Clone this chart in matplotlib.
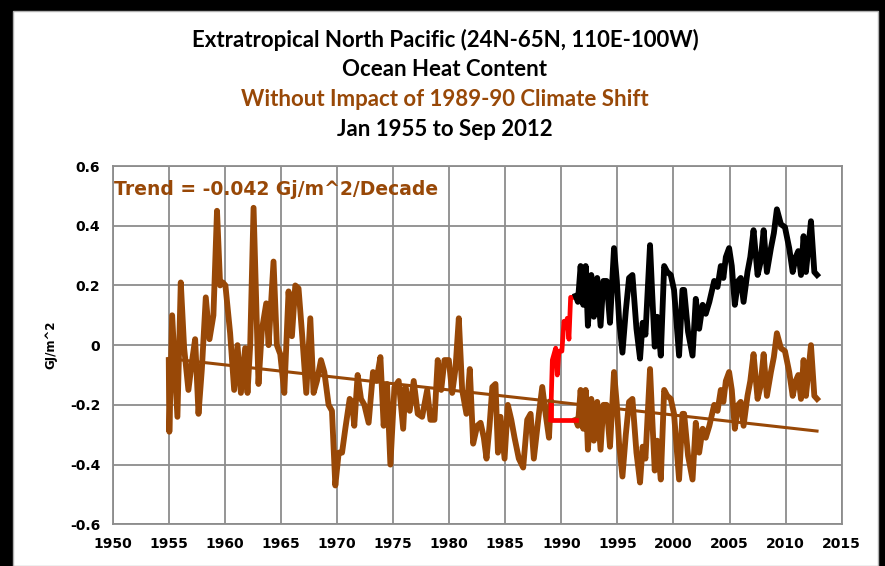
import matplotlib
matplotlib.use("Agg")
import matplotlib.pyplot as plt
from matplotlib.patches import Rectangle
import numpy as np

# Adjusted ocean heat content (GJ/m^2), Jan 1955 to the start of the 1989-90 shift
adj_years_early = [
    1955.00, 1955.05, 1955.30, 1955.77, 1956.07, 1956.37, 1956.75, 1957.05, 1957.35, 1957.65,
    1957.95, 1958.30, 1958.63, 1958.98, 1959.30, 1959.58, 1959.82, 1960.05, 1960.47, 1960.83,
    1961.13, 1961.43, 1961.81, 1962.02, 1962.26, 1962.56, 1963.00, 1963.30, 1963.69, 1963.90,
    1964.34, 1964.64, 1964.94, 1965.30, 1965.68, 1965.98, 1966.28, 1966.57, 1966.88, 1967.26,
    1967.62, 1967.91, 1968.21, 1968.57, 1968.87, 1969.25, 1969.55, 1969.85, 1970.15, 1970.45,
    1970.74, 1971.13, 1971.34, 1971.54, 1971.84, 1972.14, 1972.44, 1972.82, 1973.21, 1973.51,
    1973.87, 1974.16, 1974.46, 1974.76, 1975.12, 1975.50, 1975.90, 1976.10, 1976.48, 1976.84,
    1977.20, 1977.59, 1978.04, 1978.33, 1978.69, 1978.98, 1979.29, 1979.58, 1979.97, 1980.27,
    1980.56, 1980.86, 1981.16, 1981.54, 1981.84, 1982.14, 1982.50, 1982.80, 1983.09, 1983.33,
    1983.60, 1983.85, 1984.13, 1984.35, 1984.58, 1984.94, 1985.23, 1985.54, 1985.83, 1986.21,
    1986.60, 1986.96, 1987.26, 1987.55, 1988.00, 1988.30, 1988.60, 1988.90, 1989.05,
]
adj_vals_early = [
    -0.05, -0.29, 0.10, -0.24, 0.21, -0.01, -0.15, -0.06, 0.02, -0.23,
    -0.08, 0.16, 0.02, 0.10, 0.45, 0.20, 0.21, 0.20, 0.04, -0.15,
    0.00, -0.16, -0.01, -0.16, 0.00, 0.46, -0.13, 0.05, 0.14, 0.00,
    0.28, 0.00, -0.03, -0.16, 0.18, 0.03, 0.20, 0.19, 0.04, -0.16,
    0.09, -0.16, -0.12, -0.05, -0.09, -0.20, -0.22, -0.47, -0.36, -0.36,
    -0.28, -0.18, -0.19, -0.27, -0.10, -0.18, -0.20, -0.26, -0.09, -0.12,
    -0.04, -0.27, -0.13, -0.40, -0.14, -0.12, -0.28, -0.14, -0.22, -0.12,
    -0.23, -0.24, -0.15, -0.25, -0.25, -0.05, -0.15, -0.05, -0.05, -0.16,
    -0.08, 0.09, -0.15, -0.23, -0.08, -0.33, -0.27, -0.26, -0.31, -0.38,
    -0.27, -0.14, -0.13, -0.36, -0.24, -0.38, -0.20, -0.25, -0.31, -0.38,
    -0.41, -0.25, -0.23, -0.38, -0.23, -0.14, -0.23, -0.31, -0.19,
]

# Adjusted ocean heat content after the shift, to Sep 2012
adj_years_late = [
    1991.28, 1991.48, 1991.72, 1991.96, 1992.17, 1992.37, 1992.67, 1992.90, 1993.20, 1993.50,
    1993.75, 1994.04, 1994.34, 1994.70, 1994.95, 1995.15, 1995.45, 1995.75, 1996.04, 1996.34,
    1996.70, 1997.02, 1997.25, 1997.50, 1997.91, 1998.10, 1998.33, 1998.55, 1998.87, 1999.17,
    1999.45, 1999.76, 2000.05, 2000.50, 2000.80, 2000.95, 2001.30, 2001.70, 2001.99, 2002.29,
    2002.60, 2002.88, 2003.20, 2003.63, 2003.93, 2004.22, 2004.45, 2004.67, 2004.96, 2005.20,
    2005.47, 2005.77, 2006.00, 2006.25, 2006.60, 2006.85, 2007.14, 2007.50, 2007.75, 2008.04,
    2008.33, 2008.69, 2008.95, 2009.22, 2009.58, 2009.94, 2010.32, 2010.63, 2010.90, 2011.13,
    2011.37, 2011.60, 2011.81, 2012.05, 2012.26, 2012.56, 2012.80,
]
adj_vals_late = [
    -0.25, -0.27, -0.15, -0.28, -0.15, -0.35, -0.18, -0.32, -0.19, -0.35,
    -0.20, -0.20, -0.34, -0.09, -0.20, -0.33, -0.44, -0.30, -0.19, -0.18,
    -0.36, -0.46, -0.34, -0.38, -0.08, -0.24, -0.42, -0.32, -0.45, -0.15,
    -0.17, -0.18, -0.23, -0.45, -0.23, -0.23, -0.37, -0.45, -0.26, -0.36,
    -0.28, -0.31, -0.27, -0.20, -0.22, -0.15, -0.19, -0.12, -0.09, -0.15,
    -0.28, -0.20, -0.19, -0.27, -0.17, -0.12, -0.03, -0.18, -0.14, -0.03,
    -0.17, -0.09, -0.04, 0.04, -0.01, -0.02, -0.09, -0.17, -0.12, -0.10,
    -0.18, -0.05, -0.17, -0.08, 0.00, -0.17, -0.18,
]

# Size of the 1989-90 climate shift removed from the adjusted series
shift = 0.415

# Unadjusted values during the shift itself
shift_years = [1989.05, 1989.20, 1989.50, 1989.64, 1989.79, 1990.05, 1990.24, 1990.40,
               1990.53, 1990.68, 1990.83, 1991.28]
shift_vals = [-0.25, -0.05, -0.01, -0.10, -0.02, -0.02, 0.08, 0.06, 0.09, 0.02, 0.16, 0.16]

# Flat bridge replacing the shift in the adjusted series
bridge_years = [1989.05, 1989.05, 1991.28]
bridge_vals = [-0.19, -0.25, -0.25]

# Linear trend of the adjusted series
trend_per_decade = -0.042
trend_start_year = 1955.0
trend_end_year = 2012.8
trend_start_val = -0.045

x_ticks = list(range(1950, 2016, 5))
y_ticks = [-0.6, -0.4, -0.2, 0, 0.2, 0.4, 0.6]
y_tick_labels = ["-0.6", "-0.4", "-0.2", "0", "0.2", "0.4", "0.6"]

BROWN = "#984807"
GRID = "#8c8c8c"

W, H = 885, 566
fig = plt.figure(figsize=(W / 100, H / 100), dpi=100, facecolor="black")

# White chart area inside the black frame
fig.patches.append(Rectangle((13 / W, 0), (878 - 13) / W, (H - 11) / H,
                             transform=fig.transFigure, facecolor="white",
                             edgecolor="#b0b0b0", linewidth=1.0, zorder=-10))

ax = fig.add_axes([112.7 / W, (H - 524.3) / H, 729 / W, 358.3 / H])
ax.set_zorder(1)
ax.set_facecolor("white")
ax.set_xlim(1950, 2015)
ax.set_ylim(-0.6, 0.6)
ax.set_xticks(x_ticks)
ax.set_yticks(y_ticks)
ax.set_yticklabels(y_tick_labels)

# Major gridlines at every labelled tick
ax.grid(True, which="major", axis="both", color=GRID, linewidth=1.3, linestyle="-", zorder=2)

LW = 4.2
ax.plot(adj_years_early, adj_vals_early, color=BROWN, lw=LW, solid_joinstyle="round", zorder=3)
ax.plot(adj_years_late, adj_vals_late, color=BROWN, lw=LW, solid_joinstyle="round", zorder=3)
ax.plot(bridge_years, bridge_vals, color="#ff0000", lw=3.4, zorder=3)
ax.plot(shift_years, shift_vals, color="#ff0000", lw=3.4, solid_joinstyle="round", zorder=4)
orig_late = np.array(adj_vals_late) + shift
ax.plot(adj_years_late, orig_late, color="black", lw=LW, solid_joinstyle="round", zorder=4)

tx = np.array([trend_start_year, trend_end_year])
ty = trend_start_val + trend_per_decade / 10 * (tx - trend_start_year)
ax.plot(tx, ty, color=BROWN, lw=2.2, zorder=5)

for s in ax.spines.values():
    s.set_color(GRID)
    s.set_linewidth(1.3)
ax.tick_params(axis="both", which="both", length=0, pad=9, labelsize=10)
for lab in ax.get_xticklabels() + ax.get_yticklabels():
    lab.set_fontweight("bold")
    lab.set_family("DejaVu Sans")
ax.set_ylabel("GJ/m^2", fontsize=8.5, fontweight="bold", labelpad=9)

ax.text(1950.1, 0.52, "Trend = -0.042 Gj/m^2/Decade", color=BROWN, fontsize=13.5,
        fontweight="bold", family="DejaVu Sans", va="center", ha="left", zorder=6)

title_font = dict(family="Lato", fontweight="bold", fontsize=16, ha="center", va="center")
fig.text(445 / W, 1 - 40 / H, "Extratropical North Pacific (24N-65N, 110E-100W)", color="black", **title_font)
fig.text(445 / W, 1 - 70 / H, "Ocean Heat Content", color="black", **title_font)
fig.text(445 / W, 1 - 99 / H, "Without Impact of 1989-90 Climate Shift", color=BROWN, **title_font)
fig.text(445 / W, 1 - 130 / H, "Jan 1955 to Sep 2012", color="black", **title_font)

fig.savefig("out.png", dpi=100, facecolor=fig.get_facecolor())
